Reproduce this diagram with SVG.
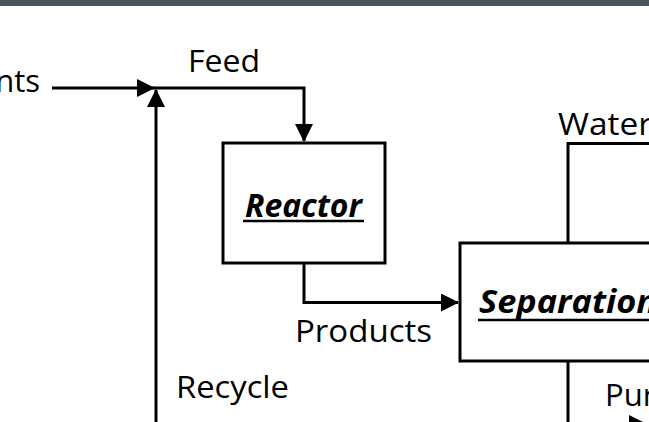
<svg xmlns="http://www.w3.org/2000/svg" width="649" height="422" viewBox="0 0 649 422">
  <style>
    .lbl { font-family: "Open Sans", "Noto Sans", sans-serif; font-size: 31px; fill: #000; }
    .unit { font-family: "Open Sans", "Noto Sans", sans-serif; font-size: 32px; font-weight: bold; font-style: italic; fill: #000; }
    .box { fill: #fff; stroke: #000; stroke-width: 3; }
    .flow { fill: none; stroke: #000; stroke-width: 3; }
    .ul { stroke: #000; stroke-width: 2.5; }
  </style>
  <defs>
    <marker id="arrow" markerUnits="userSpaceOnUse" viewBox="0 0 18 18" markerWidth="18" markerHeight="18" refX="17" refY="9" orient="auto">
      <path d="M0,0 L18,9 L0,18 z" fill="#000"/>
    </marker>
  </defs>

  <rect x="0" y="0" width="649" height="422" fill="#fff"/>
  <!-- header strip -->
  <rect x="0" y="0" width="649" height="6" fill="#4a5461"/>

  <g id="connectors">
    <path class="flow" d="M52,88 H154" marker-end="url(#arrow)"/>
    <path class="flow" d="M153,88 H304 V141" marker-end="url(#arrow)"/>
    <path class="flow" d="M156,430 V90" marker-end="url(#arrow)"/>
    <path class="flow" d="M304,263 V302.5 H458" marker-end="url(#arrow)"/>
    <path class="flow" d="M568,243 V143.5 H670"/>
    <path class="flow" d="M568,361 V424 H646" marker-end="url(#arrow)"/>
  </g>

  <g id="reactor">
    <rect class="box" x="223" y="143" width="162" height="120"/>
    <text class="unit" x="245" y="217" textLength="117" lengthAdjust="spacingAndGlyphs">Reactor</text>
    <line class="ul" x1="243" y1="221" x2="364" y2="221"/>
  </g>

  <g id="separation">
    <rect class="box" x="460" y="243" width="230" height="118"/>
    <text class="unit" x="479" y="313" textLength="178" lengthAdjust="spacingAndGlyphs">Separation</text>
    <line class="ul" x1="478" y1="320" x2="660" y2="320"/>
  </g>

  <g id="labels">
    <text class="lbl" x="40" y="92" text-anchor="end">nts</text>
    <text class="lbl" x="188" y="72" textLength="72" lengthAdjust="spacingAndGlyphs">Feed</text>
    <text class="lbl" x="558" y="135" textLength="94" lengthAdjust="spacingAndGlyphs">Water</text>
    <text class="lbl" x="295" y="342" textLength="137" lengthAdjust="spacingAndGlyphs">Products</text>
    <text class="lbl" x="176" y="398" textLength="113" lengthAdjust="spacingAndGlyphs">Recycle</text>
    <text class="lbl" x="605" y="406">Pur</text>
  </g>
</svg>
